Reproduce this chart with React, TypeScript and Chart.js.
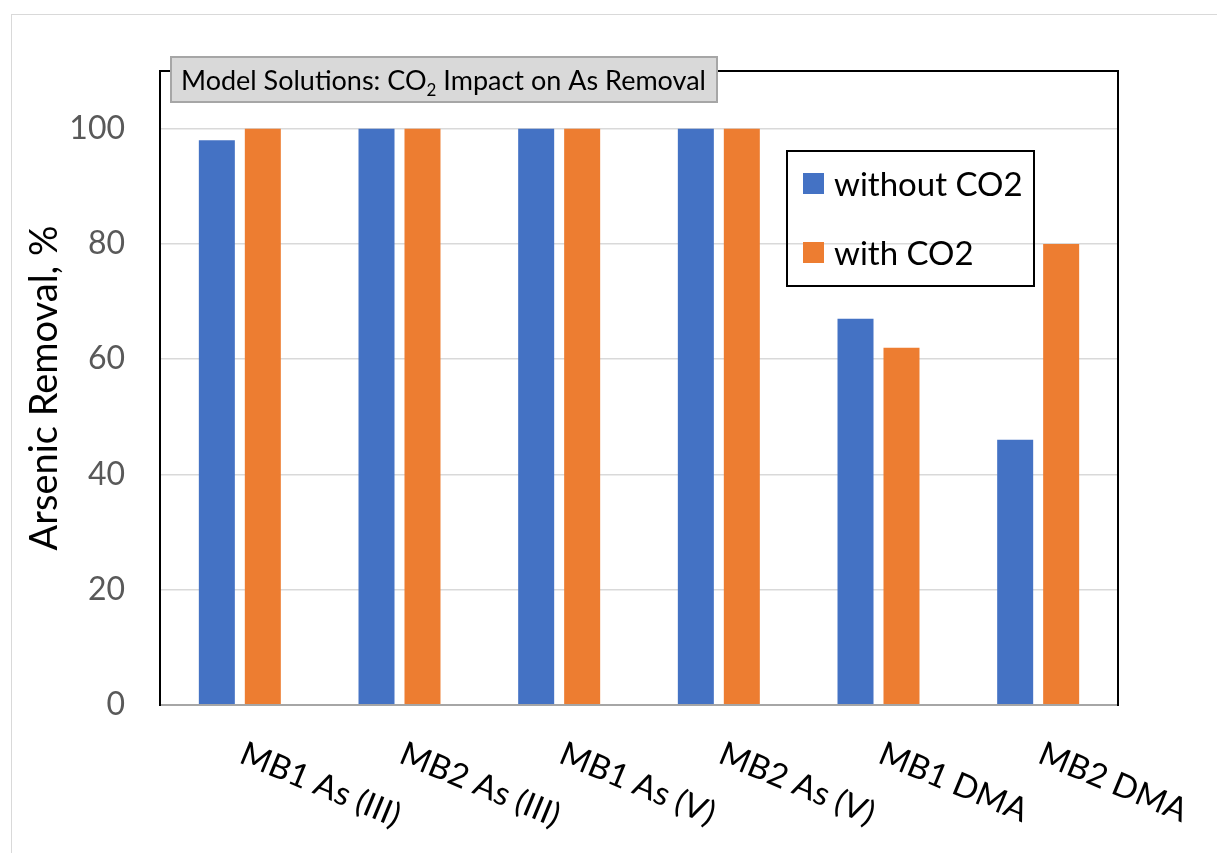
import React, { useEffect, useRef } from "react";
import { Chart, registerables } from "chart.js";

Chart.register(...registerables);

const categories = ["MB1 As (III)", "MB2 As (III)", "MB1 As (V)", "MB2 As (V)", "MB1 DMA", "MB2 DMA"];
const withoutCO2 = [98, 100, 100, 100, 67, 46];
const withCO2 = [100, 100, 100, 100, 62, 80];
const seriesNames = ["without CO2", "with CO2"];
const seriesColors = ["#4472C4", "#ED7D31"];
const yAxisTitle = "Arsenic Removal, %";
const titleParts = ["Model Solutions: CO", "2", " Impact on As Removal"];

const FONT = "Lato";

const decorPlugin = {
  id: "decor",
  beforeDraw(chart: any) {
    const ctx = chart.ctx;
    ctx.save();
    ctx.fillStyle = "#ffffff";
    ctx.fillRect(0, 0, chart.width, chart.height);
    ctx.strokeStyle = "#d9d9d9";
    ctx.lineWidth = 1;
    ctx.strokeRect(11.5, 14.5, 1400, 1000);
    ctx.restore();
  },
  afterDraw(chart: any) {
    const ctx = chart.ctx;
    const { left, top, right, bottom } = chart.chartArea;
    ctx.save();
    // frame
    ctx.strokeStyle = "#a6a6a6";
    ctx.lineWidth = 2;
    ctx.beginPath();
    ctx.moveTo(left, bottom);
    ctx.lineTo(right, bottom);
    ctx.stroke();
    ctx.strokeStyle = "#000000";
    ctx.lineWidth = 2;
    ctx.beginPath();
    ctx.moveTo(left, bottom + 1);
    ctx.lineTo(left, top);
    ctx.lineTo(right, top);
    ctx.lineTo(right, bottom + 1);
    ctx.stroke();

    // title box
    const bx = 171, by = 57, bw = 546, bh = 45;
    ctx.fillStyle = "#d9d9d9";
    ctx.fillRect(bx, by, bw, bh);
    ctx.strokeStyle = "#a6a6a6";
    ctx.lineWidth = 2;
    ctx.strokeRect(bx, by, bw, bh);
    ctx.fillStyle = "#000000";
    ctx.textBaseline = "alphabetic";
    ctx.textAlign = "left";
    let tx = 181;
    const ty = 90;
    ctx.font = `27px ${FONT}`;
    ctx.fillText(titleParts[0], tx, ty);
    tx += ctx.measureText(titleParts[0]).width;
    ctx.font = `17px ${FONT}`;
    ctx.fillText(titleParts[1], tx, ty + 6);
    tx += ctx.measureText(titleParts[1]).width;
    ctx.font = `27px ${FONT}`;
    ctx.fillText(titleParts[2], tx, ty);

    // legend
    ctx.strokeStyle = "#000000";
    ctx.lineWidth = 2;
    ctx.strokeRect(787, 151, 247, 135);
    const legendY = [184, 253];
    seriesNames.forEach((name, i) => {
      ctx.fillStyle = seriesColors[i];
      ctx.fillRect(803, legendY[i] - 11, 21, 21);
      ctx.fillStyle = "#000000";
      ctx.font = `33px ${FONT}`;
      ctx.textBaseline = "middle";
      ctx.fillText(name, 834, legendY[i] + 1);
    });

    // x labels
    const xs = chart.scales.x;
    ctx.font = `33px ${FONT}`;
    ctx.fillStyle = "#000000";
    ctx.textBaseline = "alphabetic";
    ctx.textAlign = "left";
    categories.forEach((c, i) => {
      const x = xs.getPixelForValue(i);
      ctx.save();
      ctx.translate(x - 2, 762);
      ctx.rotate((22.6 * Math.PI) / 180);
      ctx.fillText(c, 0, 0);
      ctx.restore();
    });
    ctx.restore();
  },
};

export default function App() {
  const ref = useRef<HTMLCanvasElement>(null);
  useEffect(() => {
    if (!ref.current) return;
    const chart = new Chart(ref.current, {
      type: "bar",
      data: {
        labels: categories,
        datasets: [
          { label: seriesNames[0], data: withoutCO2, backgroundColor: seriesColors[0], barPercentage: 0.783, categoryPercentage: 0.576 },
          { label: seriesNames[1], data: withCO2, backgroundColor: seriesColors[1], barPercentage: 0.783, categoryPercentage: 0.576 },
        ],
      },
      options: {
        responsive: false,
        animation: false,
        layout: { padding: { top: 71, right: 99, left: 0, bottom: 0 } },
        plugins: { legend: { display: false }, title: { display: false }, tooltip: { enabled: false } },
        scales: {
          x: {
            grid: { display: false },
            border: { display: false },
            ticks: { display: false },
            afterFit: (s: any) => { s.height = 148; },
          },
          y: {
            min: 0,
            max: 110,
            grid: { color: "#d9d9d9", lineWidth: 1.5, drawTicks: false },
            border: { display: false },
            ticks: { stepSize: 20, padding: 35, color: "#595959", font: { family: FONT, size: 32 } },
            afterBuildTicks: (s: any) => { s.ticks = s.ticks.filter((t: any) => t.value <= 100); },
            title: { display: true, text: yAxisTitle, color: "#000000", font: { family: FONT, size: 38 }, padding: { top: 22, bottom: 0 } },
            afterFit: (s: any) => { s.width = 160; },
          },
        },
      },
      plugins: [decorPlugin],
    });
    return () => chart.destroy();
  }, []);
  return (
    <div style={{ position: "fixed", left: 0, top: 0, width: 1217, height: 853, background: "#fff" }}>
      <canvas ref={ref} width={1217} height={853} style={{ display: "block" }} />
    </div>
  );
}
